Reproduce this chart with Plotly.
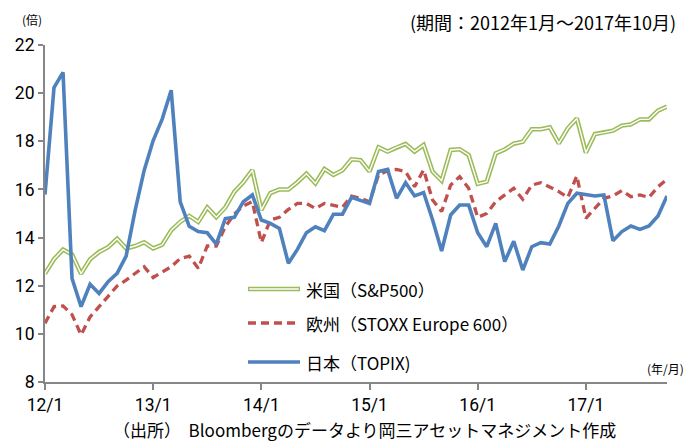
import plotly.graph_objects as go

# ---- data (monthly, 2012/1 - 2017/10) ----
us_sp500 = [12.5, 13.1, 13.5, 13.3, 12.5, 13.1, 13.4, 13.6, 13.95, 13.55, 13.65, 13.8,
            13.55, 13.7, 14.3, 14.65, 14.9, 14.65, 15.25, 14.85, 15.25, 15.9, 16.3, 16.8,
            15.15, 15.85, 16.0, 16.0, 16.3, 16.65, 16.25, 16.85, 16.6, 16.8, 17.25, 17.22,
            16.75, 17.75, 17.57, 17.75, 17.89, 17.57, 17.85, 16.74, 16.36, 17.64, 17.67, 17.43,
            16.23, 16.32, 17.5, 17.66, 17.9, 17.98, 18.5, 18.5, 18.58, 17.91, 18.54, 18.95,
            17.53, 18.3, 18.36, 18.44, 18.65, 18.7, 18.91, 18.91, 19.27, 19.44]
eu_stoxx600 = [10.44, 11.13, 11.16, 10.8, 9.96, 10.7, 11.13, 11.54, 11.99, 12.23, 12.51, 12.79,
               12.34, 12.58, 12.79, 13.13, 13.23, 12.72, 13.65, 13.65, 14.45, 14.98, 15.31, 15.49,
               13.79, 14.73, 14.84, 15.17, 15.42, 15.42, 15.21, 15.42, 15.35, 15.26, 15.72, 15.63,
               15.49, 16.6, 16.78, 16.83, 16.74, 16.11, 16.81, 15.56, 15.08, 16.18, 16.53, 16.05,
               14.84, 15.0, 15.49, 15.79, 16.05, 15.59, 16.18, 16.28, 16.11, 15.91, 15.67, 16.56,
               14.8, 15.21, 15.63, 15.73, 15.95, 15.7, 15.77, 15.67, 16.11, 16.42]
jp_topix = [15.79, 20.23, 20.86, 12.3, 11.13, 12.06, 11.68, 12.17, 12.51, 13.23, 15.13, 16.79,
            18.03, 18.92, 20.12, 15.48, 14.47, 14.25, 14.2, 13.73, 14.79, 14.84, 15.49, 15.77,
            14.73, 14.59, 14.38, 12.93, 13.51, 14.2, 14.45, 14.29, 14.97, 14.97, 15.67, 15.56,
            15.42, 16.74, 16.83, 15.63, 16.28, 15.73, 15.87, 14.73, 13.44, 14.94, 15.35, 15.35,
            14.2, 13.62, 14.59, 13.0, 13.85, 12.65, 13.62, 13.79, 13.73, 14.48, 15.42, 15.84,
            15.77, 15.73, 15.77, 13.87, 14.25, 14.48, 14.34, 14.48, 14.9, 15.73]
year_labels = ["12/1", "13/1", "14/1", "15/1", "16/1", "17/1"]
y_ticks = [8, 10, 12, 14, 16, 18, 20, 22]
series_names = ["米国（S&P500）", "欧州（STOXX Europe 600）", "日本（TOPIX)"]

GREEN = "#9BBB59"
RED = "#C0504D"
BLUE = "#4F81BD"
AXIS = "#868686"
FONT = "Noto Sans CJK JP"
NUMFONT = "Roboto"

x = list(range(len(us_sp500)))
tick_pos = [12 * i for i in range(len(year_labels))]

fig = go.Figure()
# US: double line (green outer + white core)
fig.add_trace(go.Scatter(x=x, y=us_sp500, mode="lines", line=dict(color=GREEN, width=4.5),
                         showlegend=False, hoverinfo="skip"))
fig.add_trace(go.Scatter(x=x, y=us_sp500, mode="lines", line=dict(color="white", width=1.4),
                         showlegend=False, name=series_names[0]))
fig.add_trace(go.Scatter(x=x, y=eu_stoxx600, mode="lines",
                         line=dict(color=RED, width=3.3, dash="8px,5px"),
                         showlegend=False, name=series_names[1]))
fig.add_trace(go.Scatter(x=x, y=jp_topix, mode="lines", line=dict(color=BLUE, width=3.6),
                         showlegend=False, name=series_names[2]))

# plot area in pixels
L, R, T, B = 45, 667, 45, 382
W, H = R - L, B - T
def px(xp):
    return (xp - L) / W
def py(yp):
    return (B - yp) / H

# manual legend
shapes = []
leg_y = [289, 323, 362]
x0, x1 = px(248), px(300)
shapes.append(dict(type="line", xref="paper", yref="paper", x0=x0, x1=x1, y0=py(leg_y[0]), y1=py(leg_y[0]),
                   line=dict(color=GREEN, width=4.5)))
shapes.append(dict(type="line", xref="paper", yref="paper", x0=x0 + 0.002, x1=x1 - 0.002, y0=py(leg_y[0]), y1=py(leg_y[0]),
                   line=dict(color="white", width=1.4)))
shapes.append(dict(type="line", xref="paper", yref="paper", x0=x0, x1=x1, y0=py(leg_y[1]), y1=py(leg_y[1]),
                   line=dict(color=RED, width=3.3, dash="8px,5px")))
shapes.append(dict(type="line", xref="paper", yref="paper", x0=x0, x1=x1, y0=py(leg_y[2]), y1=py(leg_y[2]),
                   line=dict(color=BLUE, width=3.6)))

annotations = []
for name, yy in zip(series_names, leg_y):
    annotations.append(dict(text=name, xref="paper", yref="paper", x=px(304), y=py(yy),
                            xanchor="left", yanchor="middle", showarrow=False,
                            font=dict(family=FONT, size=17, color="#000")))
annotations.append(dict(text="(倍)", xref="paper", yref="paper", x=px(32), y=py(20),
                        xanchor="center", yanchor="middle", showarrow=False,
                        font=dict(family=FONT, size=12, color="#000")))
annotations.append(dict(text="(期間：2012年1月～2017年10月)", xref="paper", yref="paper", x=px(678), y=py(22),
                        xanchor="right", yanchor="middle", showarrow=False,
                        font=dict(family=FONT, size=18, color="#000")))
annotations.append(dict(text="(年/月)", xref="paper", yref="paper", x=px(645), y=py(368),
                        xanchor="left", yanchor="middle", showarrow=False,
                        font=dict(family=FONT, size=12, color="#000")))
annotations.append(dict(text="（出所）  Bloombergのデータより岡三アセットマネジメント作成", xref="paper", yref="paper",
                        x=px(364), y=py(429), xanchor="center", yanchor="middle", showarrow=False,
                        font=dict(family=FONT, size=17, color="#000")))

fig.update_layout(
    width=684, height=441,
    margin=dict(l=L, r=684 - R, t=T, b=441 - B),
    paper_bgcolor="white", plot_bgcolor="white",
    showlegend=False,
    shapes=shapes, annotations=annotations,
    font=dict(family=FONT, size=16, color="#000"),
)
fig.update_xaxes(range=[0, len(x) - 1], tickvals=tick_pos, ticktext=year_labels,
                 showgrid=False, zeroline=False, showline=True, linecolor=AXIS, linewidth=2,
                 ticks="outside", ticklen=6, tickcolor=AXIS, tickwidth=1.5,
                 tickfont=dict(family=NUMFONT, size=17.5, color="#000"))
fig.update_yaxes(range=[8, 22], tickvals=y_ticks, showgrid=False, zeroline=False,
                 showline=True, linecolor=AXIS, linewidth=2,
                 ticks="outside", ticklen=5, tickcolor=AXIS, tickwidth=1.5,
                 tickfont=dict(family=NUMFONT, size=17.5, color="#000"))

fig.write_html("out.html", config={"displayModeBar": False},
               post_script="document.body.style.margin='0';document.body.style.overflow='hidden';")
